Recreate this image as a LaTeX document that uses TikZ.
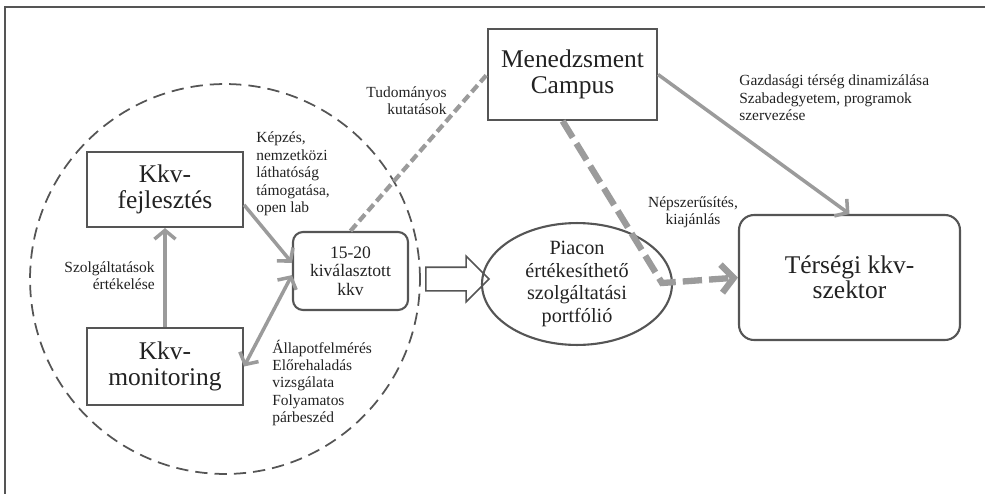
\documentclass[tikz,border=0pt]{standalone}
\usepackage{fontspec}
\setmainfont{Liberation Serif}
\usepackage{tikz}
\usetikzlibrary{arrows.meta,shapes.geometric,shapes.arrows}
\definecolor{frameGray}{HTML}{555555}
\definecolor{arrowGray}{HTML}{9B9B9B}
\definecolor{textDark}{HTML}{222222}
\tikzset{
  big_box/.style={rectangle, draw=frameGray, line width=1.2pt, text=textDark, align=center, font=\fontsize{14.5}{14.5}\selectfont},
  round_box/.style={big_box, rounded corners=0.3cm},
  small_box/.style={rectangle, rounded corners=0.2cm, draw=frameGray, line width=1.2pt, text=textDark, align=center, font=\fontsize{10}{10.6}\selectfont},
  portf_ellipse/.style={ellipse, draw=frameGray, line width=1.2pt, text=textDark, align=center, inner sep=0pt, font=\fontsize{11.5}{13}\selectfont},
  group_circle/.style={circle, draw=frameGray, line width=1pt, dash pattern=on 7pt off 4pt},
  hollow_arrow/.style={single arrow, draw=frameGray, line width=0.9pt, inner sep=0.22cm, single arrow head extend=0.22cm, minimum height=1.26cm},
  lbl/.style={text=textDark, inner sep=0pt, font=\fontsize{8.8}{9.9}\selectfont},
  gray_edge/.style={draw=arrowGray, line width=2pt, -{Straight Barb[length=5pt, width=12pt]}},
  gray_dashed_edge/.style={draw=arrowGray, line width=2.4pt, dash pattern=on 5pt off 2.5pt},
  thick_dashed_edge/.style={draw=arrowGray, line width=3.6pt, dash pattern=on 11pt off 4pt, -{Straight Barb[length=7pt, width=16pt]}}
}
\begin{document}
\begin{tikzpicture}[x=0.02cm, y=-0.02cm]
        \useasboundingbox (0,0) rectangle (985,494);
        \draw[draw=frameGray, line width=1.2pt] (5,510) -- (5,7) -- (1000,7);
        \node[group_circle, minimum size=7.8cm] (grp) at (225,279) {};
        \node[big_box, minimum width=3.12cm, minimum height=1.5cm] (fejl) at (165,189.5) {Kkv-\\fejlesztés};
        \node[big_box, minimum width=3.12cm, minimum height=1.54cm] (monit) at (165,366.5) {Kkv-\\monitoring};
        \node[small_box, minimum width=2.3cm, minimum height=1.56cm] (kkv) at (350.5,271) {15-20\\kiválasztott\\kkv};
        \node[big_box, minimum width=3.38cm, minimum height=1.82cm] (menedz) at (572.5,74.5) {Menedzsment\\Campus};
        \node[portf_ellipse, minimum width=3.8cm, minimum height=2.14cm] (portf) at (577,284) {Piacon\\értékesíthető\\szolgáltatási\\portfólió};
        \node[round_box, minimum width=4.42cm, minimum height=2.5cm] (terseg) at (849.5,277.5) {Térségi kkv-\\szektor};
        \node[hollow_arrow] (nyil) at (451.5,279) {};
        \coordinate (tores) at (662,283);
        \node[lbl, align=right, anchor=east] (tud) at (447,100.5) {Tudományos\\kutatások};
        \node[lbl, align=left, anchor=west] (kepz) at (256,174) {Képzés,\\nemzetközi\\láthatóság\\támogatása,\\open lab};
        \node[lbl, align=right, anchor=east] (szolg) at (155,276) {Szolgáltatások\\értékelése};
        \node[lbl, align=left, anchor=west] (allap) at (272,383) {Állapotfelmérés\\Előrehaladás\\vizsgálata\\Folyamatos\\párbeszéd};
        \node[lbl, align=left, anchor=west] (gazd) at (739,98) {Gazdasági térség dinamizálása\\Szabadegyetem, programok\\szervezése};
        \node[lbl, align=center] (nepsz) at (693,212) {Népszerűsítés,\\kiajánlás};
        \draw[gray_edge] (fejl.-11) -- (kkv.172);
        \draw[gray_edge, {Straight Barb[length=5pt, width=12pt]}-{Straight Barb[length=5pt, width=12pt]}] (kkv.184) -- (monit.east);
        \draw[gray_edge] (monit.north) -- (fejl.south);
        \draw[gray_edge] (menedz.east) -- (terseg.north);
        \draw[gray_dashed_edge] (kkv.north) -- (menedz.west);
        \draw[thick_dashed_edge] (menedz.258) -- (tores) -- (terseg.west);
\end{tikzpicture}
\end{document}
